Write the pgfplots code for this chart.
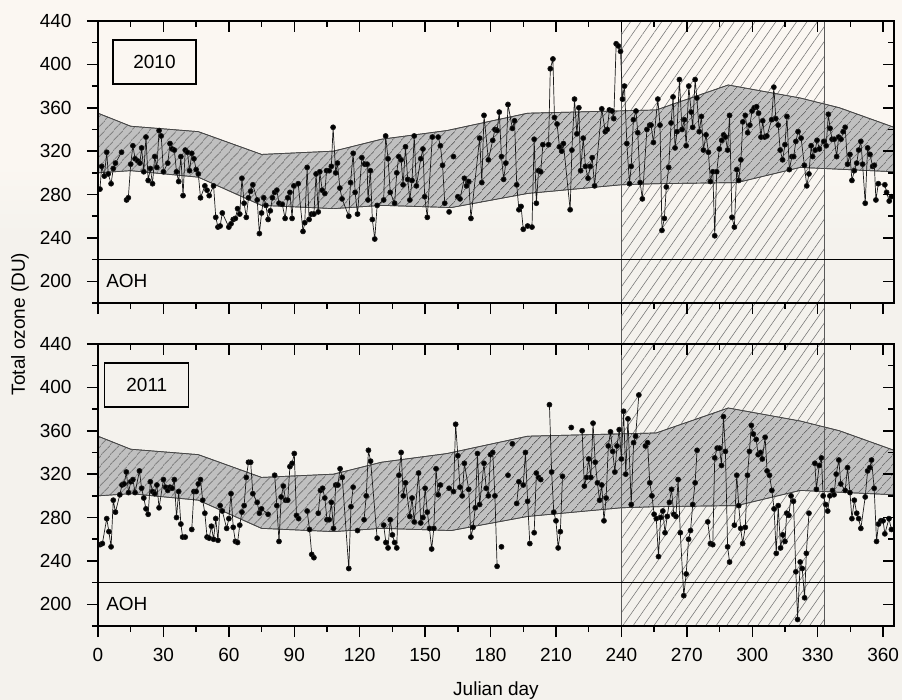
\documentclass[border=0pt]{standalone}
\usepackage{fontspec}
\setmainfont{Liberation Sans}
\usepackage{pgfplots}
\pgfplotsset{compat=1.18}
\usetikzlibrary{patterns.meta}

\definecolor{bgtop}{RGB}{251,247,242}
\definecolor{bgbot}{RGB}{244,242,237}
\definecolor{bandfill}{RGB}{192,192,192}
\definecolor{bandedge}{RGB}{70,70,70}
\newcommand\lab{\fontsize{19}{22}\selectfont}

\tikzset{
  hatchreg/.style={pattern={Lines[angle=55,distance=8.5pt,line width=0.55pt]}, pattern color=black!55},
  edge/.style={draw=black!65, line width=0.9pt},
}
\pgfplotsset{
  ozbase/.style={
    scale only axis, width=796pt, height=282pt,
    xmin=0, xmax=365, ymin=180, ymax=440,
    xtick={0,30,...,360}, minor xtick={15,45,...,345},
    ytick={200,240,...,440}, minor ytick={180,220,...,420},
    major tick length=11pt, minor tick length=6pt,
    axis line style={line width=1.8pt},
    tick style={black, line width=1.5pt},
    tick label style={font=\lab},
    /pgf/number format/assume math mode=true,
    axis on top,
  },
  ozmain/.style={ozbase, tick align=outside, xtick pos=left, ytick pos=left,
    yticklabel style={xshift=-12pt}, xticklabel style={yshift=-8pt},
    clip=false, unbounded coords=jump},
  ozinner/.style={ozbase, tick align=inside, xtick pos=right, ytick pos=right,
    xticklabels={}, yticklabels={}},
  band/.style={draw=bandedge, line width=0.7pt, fill=bandfill,
    postaction={pattern={Lines[angle=48,distance=6.5pt,line width=0.6pt]}, pattern color=black!85}},
  ozdata/.style={black!90, line width=0.7pt, mark=*, mark size=2.5pt, mark options={solid, fill=black}},
}

\begin{document}
\begin{tikzpicture}
\fill[bgtop] (0,0) rectangle (902pt,-165pt);
\shade[top color=bgtop, bottom color=bgbot] (0,-165pt) rectangle (902pt,-235pt);
\fill[bgbot] (0,-235pt) rectangle (902pt,-700pt);

% ---------- 2010 ----------
\begin{axis}[ozmain, at={(98pt,-303pt)}, anchor=south west, xticklabels={}]
  \fill[hatchreg] (axis cs:240,-117.8) rectangle (axis cs:333,440);
  \addplot[band] coordinates {
    (0,355)(15,343)(46,338)(75,317)(108,320)(130,331)(160,339)(197,355)(256,358)(289,381)(322,369)(340,360)(365,342)
    (365,301)(322,305)(293,291)(256,290)(240,289)(197,281)(162,268)(130,270)(108,267)(75,270)(46,296)(15,302)(0,300)
  } -- cycle;
  \draw[edge] (axis cs:240,-117.8) -- (axis cs:240,440);
  \draw[edge] (axis cs:333,-117.8) -- (axis cs:333,440);
  \draw[black, line width=1pt] (axis cs:0,220) -- (axis cs:365,220);
  \node[anchor=west, inner sep=0pt, font=\lab] at (axis cs:3.7,200) {AOH};
  \node[draw, line width=1.1pt, minimum width=83pt, minimum height=44pt, font=\lab] at (axis cs:25.9,402.2) {2010};
  \addplot[ozdata] table {
x y
0.9 285
1.7 306
2.9 297
4 319
4.7 299
6 290
7 304
8 309
10.8 319
12 nan
13.1 275
13.9 277
15 308
16 325
17 313
18.2 311
19.2 309
20 323
21 301
22 333
23 293
24 304
25 290
26 315
27 305
28 339
29 334
30 301
32 309
33 327
34 322
35 321
36 301
37 292
38 315
39 279
40 321
41 319
42 302
43 318
44 313
45 303
46 299
47 277
49 288
50 284
51 279
53 288
54 259
55 250
56 251
57 263
60 250
61 253
62 257
63 258
64 267
65 262
66 295
67 272
68 259
69 277
70 283
71 289
73 275
74 244
75 263
76 277
77 270
78 257
79 265
80 277
81 282
82 284
83 272
84.5 271
85.8 258
87 277
88 282
89 258
89.8 288
91.8 290
94 246
94.8 254
95.9 305
96.8 257
97.9 262
99 262
100 299
101 264
101.7 301
102.8 284
104 281
104.8 302
106 302
107 306
107.8 342
109 300
109.8 309
110.9 286
111.9 276
115 260
115.8 291
117 318
117.9 282
119 262
121 314
122.3 308
123.4 308
123.8 275
124.9 302
125.8 257
126.9 239
128 270
131 275
131.9 334
133 313
134 282
136 272
137 300
137.9 315
139 312
139.9 289
141 324
142 294
143 275
144 293
145 334
146 288
148 313
149 322
149.8 278
151 259
153.3 333
156 333
157 325
158 307
159 272
160 nan
161 264
162 nan
163 315
164 nan
165 278
166 276
168 295
169 288
170 292
171 258
175 332
176 291
177 353
179 312
181 330
182 340
183 339
184 356
185 315
186 294
187 309
188 363
190 341
191 348
192 289
193 266
194 269
195 248
197 251
199 250
200 331
201 272
202 302
203 301
204 326
206.6 326
207.4 396
208.6 405
209.3 351
210.5 345
211.6 324
212.6 320
213.4 327
216.5 266
217.3 321
218.5 368
219.6 336
220.5 360
221.3 302
222.5 332
223.5 306
224.7 295
225.7 306
226.6 314
227.7 288
231 359
232.6 338
233.5 340
234.5 358
235.7 357
236.5 350
237.6 419
238.6 417
239.6 412
240.5 368
241.4 380
242.5 327
243.7 290
244.5 306
245.5 349
246.7 357
247.5 337
248.6 291
249.6 276
251.7 340
253 344
253.6 344
254.7 328
256.7 368
257.7 344
258.6 247
259.7 258
260.6 287
261.7 305
262.8 346
263.7 370
264.6 323
265.5 338
266.6 386
267.8 340
268.9 349
269.7 325
270.9 380
272 356
272.7 342
273.8 386
274.6 369
275.7 338
276.7 352
277.6 321
278.8 335
279.9 319
280.8 292
281.9 301
282.8 242
283.7 301
284.9 322
286 330
286.9 335
287.7 333
288.7 321
289.6 353
290.7 259
291.8 250
292.9 303
293.8 293
294.8 312
295.7 347
296.8 353
297.9 337
298.9 344
299.9 357
300.9 360
302 361
302.9 355
304 333
304.8 348
305.7 333
306.7 334
308.9 349
309.9 379
310.8 350
311.9 344
312.8 321
313.9 312
315 326
315.9 352
317 303
318.2 315
319 315
320 329
321 338
322.4 332
323.9 307
325 288
326 299
327 325
327.7 315
328.9 321
329.7 330
330.8 322
332.8 329
333.9 325
334.9 354
335.7 341
336.6 331
337.6 331
338.7 315
339.6 333
340.7 331
341.7 338
342.6 342
343.7 308
344.8 317
345.7 293
346.8 302
347.9 309
348.8 321
349.8 329
350.6 308
351.8 272
352.9 323
354 317
355.2 306
356 307
356.7 275
357.8 290
360.8 289
361.6 282
362.8 274
363.8 278
  };
\end{axis}
\begin{axis}[ozinner, at={(98pt,-303pt)}, anchor=south west]
\end{axis}

% ---------- 2011 ----------
\begin{axis}[ozmain, at={(98pt,-626pt)}, anchor=south west,
  xlabel={Julian day}, xlabel style={font=\lab, yshift=-13pt}]
  \addplot[band] coordinates {
    (0,355)(15,343)(46,338)(75,317)(108,320)(130,331)(160,339)(197,355)(256,358)(289,381)(322,369)(340,360)(365,342)
    (365,301)(322,305)(293,291)(256,290)(240,289)(197,281)(162,268)(130,270)(108,267)(75,270)(46,296)(15,302)(0,300)
  } -- cycle;
  \draw[edge] (axis cs:240,180) -- (axis cs:240,440);
  \draw[edge] (axis cs:333,180) -- (axis cs:333,440);
  \draw[black, line width=1pt] (axis cs:0,220) -- (axis cs:365,220);
  \node[anchor=west, inner sep=0pt, font=\lab] at (axis cs:3.7,200) {AOH};
  \node[draw, line width=1.1pt, minimum width=84pt, minimum height=44pt, font=\lab] at (axis cs:22.4,402.2) {2011};
  \addplot[ozdata] table {
x y
0.9 255
2 256
4 279
5 267
6 253
7 296
8 285
10 301
11 310
12 311
13 322
14 303
15 313
16 315
17 303
19 323
20 307
21 298
22 288
23 283
24 313
25 304
26 302
27 310
28 289
30 315
31 308
32 305
33 308
34 307
35 315
36 280
37 304
38 274
38.8 262
40 262
41 nan
43 269
44 304
45 304
46 311
47 315
48 296
49 284
50 262
51 261
52 272
53 260
54 279
55 259
56 291
57 286
59 270
60 279
61 302
62 271
63 258
64 257
65 273
66 285
67 291
68 317
69 331
70 331
71 302
73 294
74 284
75 288
78 283
79 nan
81 319
82 291
83 258
84 299
85 309
86 296
87 296
88 327
89 330
90 339
91 282
92 279
93 nan
95.9 286
97 269
98 246
99 243
100 nan
101 284
102 305
103 307
104 298
105 278
106 278
107 294
108 270
109 310
110 310
111 325
112 317
115 233
116 290
117 308
118 nan
119 268
120 nan
122 278
123 300
124 342
125 332
128 261
129 nan
131 273
132 257
133 252
134 278
135 264
136 257
137 252
138 319
139 340
140 300
141 312
143 281
144 298
145 276
147 321
148 275
149 280
150 307
151 285
152 270
153 251
154 270
155 325
156 301
157 310
159 nan
161 307
163 304
164 366
165 337
166 308
167 300
168 330
170 306
171 262
172 271
173 289
174 339
175 292
177 330
178 307
179 300
180 338
181 340
182 300
183 235
184 nan
185 253
186 nan
188 319
189 nan
190 348
191 nan
192 293
193 313
195 310
196 340
197 295
198 256
199 nan
200 266
201 321
202 317
203 315
205 nan
207 384
208 322
209 285
210 277
211 252
212 267
213 318
215 nan
217 363
219 nan
222 360
223 309
224 317
225 334
226 317
227 367
228 331
229 312
230 296
231 310
232 277
233 298
234 346
235 359
236 341
237 322
238 346
239 361
240 334
241 378
242 320
243 371
244.5 292
245.6 349
246.5 355
248 393
249 nan
251 346
252 349
253 312
254 300
255 283
256 279
257 244
258 280
259 286
260 266
261 281
262 294
263 306
264 283
265 281
266 315
267 266
268.6 208
269.7 228
270.8 260
271.7 268
272.7 292
273.8 312
274.7 342
277 nan
279.6 276
280.8 256
281.9 255
282.8 335
283.9 344
285 344
285.9 328
286.8 373
287.7 341
288.7 253
289.6 239
290.5 nan
291.8 273
292.9 319
293.8 291
294.7 270
295.6 256
296.8 271
297.8 319
298.7 341
299.6 365
300.5 357
301.8 352
302.7 338
303.8 340
304.6 334
305.9 354
306.8 323
307.9 319
309 305
310 288
311 247
311.9 291
313 252
314 264
315 258
315.8 284
316.8 282
317.8 300
318.9 295
320 230
320.8 186
322 239
322.9 233
324 206
324.8 247
326 284
327.5 nan
328.7 330
329.4 306
330.7 328
331.7 335
332.5 300
333.7 292
334.6 286
335.6 300
336.8 305
337.5 301
338.5 320
339.7 333
340.6 311
342.6 305
343.7 326
344.8 303
345.7 279
346.8 296
347.9 284
348.8 279
349.8 270
351.8 299
352.9 323
353.9 326
354.7 333
355.9 307
357 258
357.9 274
359 277
360 277
360.8 265
362.7 279
363.8 269
  };
\end{axis}
\begin{axis}[ozinner, at={(98pt,-626pt)}, anchor=south west]
\end{axis}

\node[rotate=90, font=\lab] at (20pt,-324pt) {Total ozone (DU)};

\pgfresetboundingbox
\useasboundingbox (0,0) rectangle (902pt,-700pt);
\end{tikzpicture}
\end{document}
